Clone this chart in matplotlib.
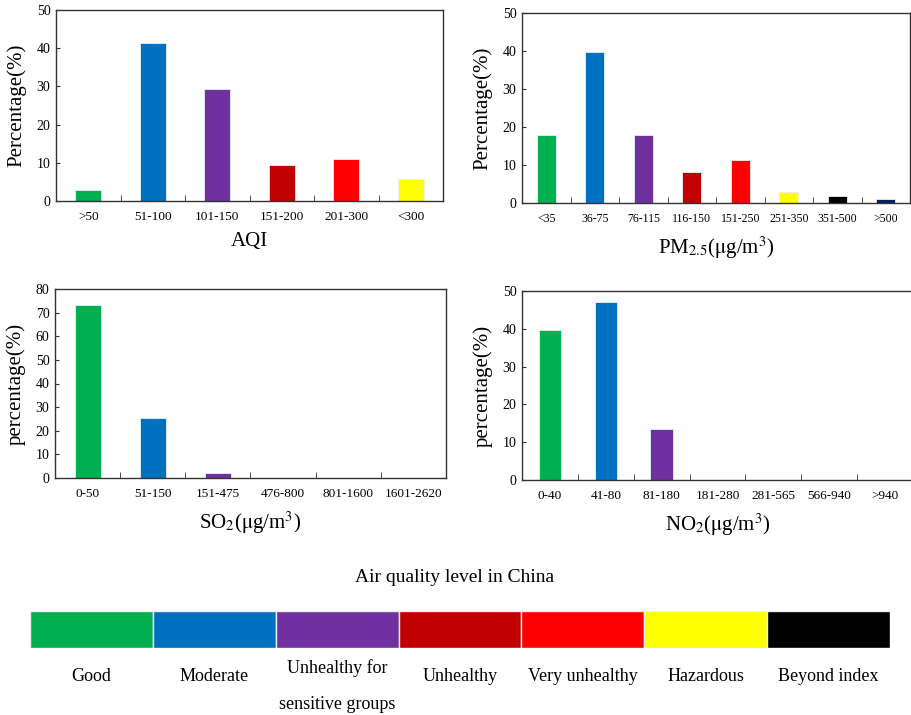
import numpy as np
import matplotlib.pyplot as plt

plt.rcParams['font.family'] = ['Liberation Serif', 'DejaVu Serif']
plt.rcParams['mathtext.fontset'] = 'stix'

# colours of the air quality levels
level_names = ['Good', 'Moderate', 'Unhealthy for\nsensitive groups', 'Unhealthy',
               'Very unhealthy', 'Hazardous', 'Beyond index']
level_colors = ['#00B050', '#0070C0', '#7030A0', '#C00000', '#FF0000', '#FFFF00', '#000000']

# data to plot
aqi_cats = ['>50', '51-100', '101-150', '151-200', '201-300', '<300']
aqi_vals = [3.0, 41.4, 29.2, 9.3, 11.1, 5.8]
aqi_cols = ['#00B050', '#0070C0', '#7030A0', '#C00000', '#FF0000', '#FFFF00']

pm_cats = ['<35', '36-75', '76-115', '116-150', '151-250', '251-350', '351-500', '>500']
pm_vals = [17.8, 39.7, 17.8, 8.2, 11.2, 2.8, 1.8, 1.0]
pm_cols = ['#00B050', '#0070C0', '#7030A0', '#C00000', '#FF0000', '#FFFF00', '#000000', '#002060']

so2_cats = ['0-50', '51-150', '151-475', '476-800', '801-1600', '1601-2620']
so2_vals = [73.2, 25.4, 2.3, 0, 0, 0]
so2_cols = ['#00B050', '#0070C0', '#7030A0', '#C00000', '#FF0000', '#FFFF00']

no2_cats = ['0-40', '41-80', '81-180', '181-280', '281-565', '566-940', '>940']
no2_vals = [39.7, 47.0, 13.5, 0, 0, 0, 0]
no2_cols = ['#00B050', '#0070C0', '#7030A0', '#C00000', '#FF0000', '#FFFF00', '#000000']

W, H = 911, 715
fig = plt.figure(figsize=(W / 100, H / 100), dpi=100)


def px_axes(x0, y0, x1, y1):
    return fig.add_axes([x0 / W, 1 - y1 / H, (x1 - x0) / W, (y1 - y0) / H])


def panel(ax, cats, vals, cols, ymax, ystep, ylabel, xlabel, xsize=9.5):
    n = len(cats)
    index = np.arange(n)
    ax.bar(index, vals, 0.4, color=cols, edgecolor='#e8f0f8', linewidth=0.6)
    ax.set_xlim(-0.5, n - 0.5)
    ax.set_ylim(0, ymax)
    ax.set_yticks(np.arange(0, ymax + 1, ystep))
    ax.set_xticks(index)
    ax.set_xticklabels(cats)
    ax.set_xticks(index[:-1] + 0.5, minor=True)
    ax.tick_params(axis='x', which='major', length=0, pad=7, labelsize=xsize)
    ax.tick_params(axis='x', which='minor', direction='in', length=4, color='#333333')
    ax.tick_params(axis='y', direction='in', length=3, pad=4, labelsize=10, color='#333333')
    for s in ax.spines.values():
        s.set_color('#333333')
        s.set_linewidth(1.0)
    ax.set_ylabel(ylabel, fontsize=15, labelpad=7)
    ax.set_xlabel(xlabel, fontsize=15, labelpad=7)


ax1 = px_axes(56, 10, 443, 201)
panel(ax1, aqi_cats, aqi_vals, aqi_cols, 50, 10, 'Percentage(%)', 'AQI')

ax2 = px_axes(522, 13, 910, 203)
panel(ax2, pm_cats, pm_vals, pm_cols, 50, 10, 'Percentage(%)',
      r'PM$_{2.5}$($\mathrm{\mu}$g/m$^{3}$)', xsize=8.5)

ax3 = px_axes(55, 289, 446, 478)
panel(ax3, so2_cats, so2_vals, so2_cols, 80, 10, 'percentage(%)', r'SO$_{2}$($\mathrm{\mu}$g/m$^{3}$)')

ax4 = px_axes(522, 291, 913, 480)
panel(ax4, no2_cats, no2_vals, no2_cols, 50, 10, 'percentage(%)', r'NO$_{2}$($\mathrm{\mu}$g/m$^{3}$)')

# air quality level strip
fig.text(455 / W, 1 - 578 / H, 'Air quality level in China', ha='center', va='center', fontsize=14)
axl = px_axes(30, 611, 890, 648)
lev = np.arange(len(level_names))
axl.bar(lev, [1] * len(lev), 1.0, color=level_colors, edgecolor='#f0f0f0', linewidth=1)
axl.set_xlim(-0.5, len(lev) - 0.5)
axl.set_ylim(0, 1)
axl.axis('off')
for i, name in enumerate(level_names):
    ypos = -1.03 if '\n' in name else -0.78
    axl.text(i, ypos, name, ha='center', va='center', fontsize=13, linespacing=2.4)

fig.savefig('out.png', dpi=100)
